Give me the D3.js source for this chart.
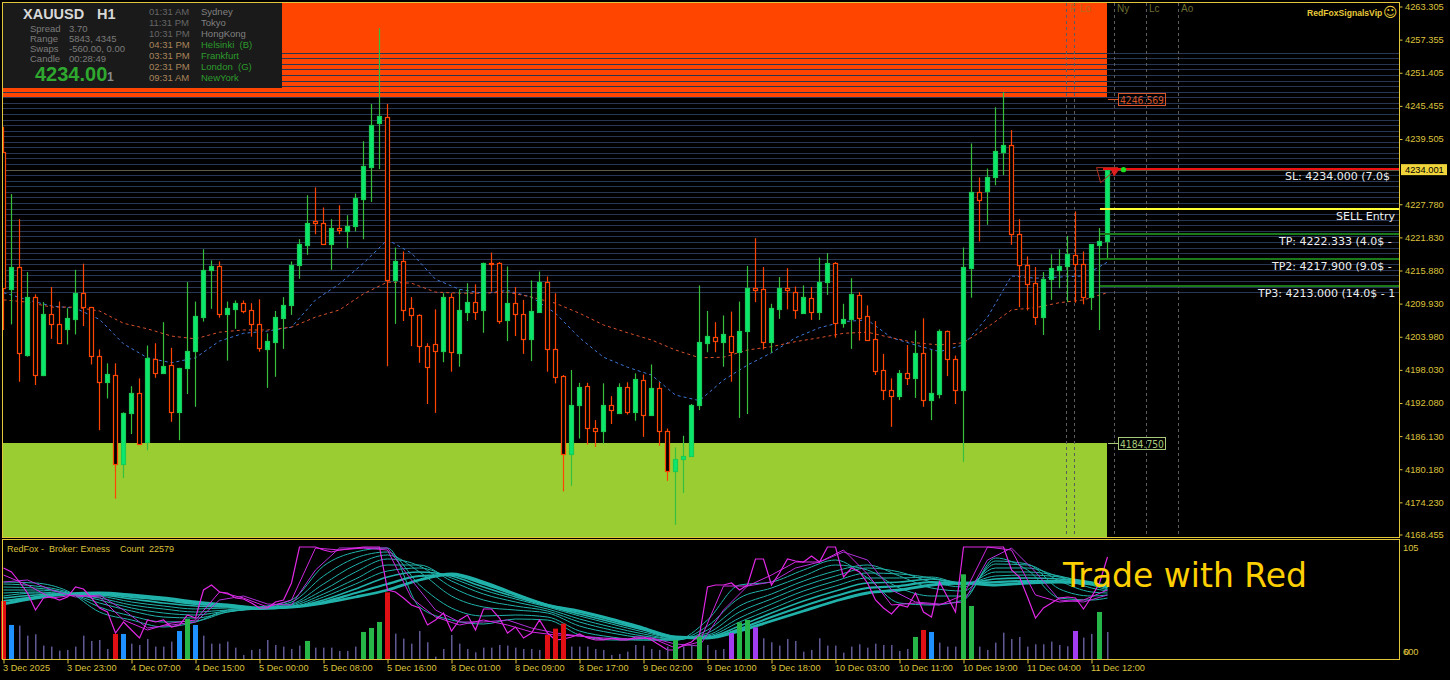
<!DOCTYPE html>
<html><head><meta charset="utf-8">
<script src="https://cdn.jsdelivr.net/npm/d3@7"></script>
<style>html,body{margin:0;padding:0;background:#000;overflow:hidden}svg{display:block}text{font-family:"Liberation Sans",Arial,sans-serif}</style>
</head><body><svg id="c" width="1450" height="680"></svg>
<script>
const opens=[4237.2,4212.6,4216.5,4200.7,4211.2,4197.1,4208.0,4206.2,4205.3,4207.2,
4211.8,4209.3,4200.6,4195.9,4197.1,4181.2,4190.2,4193.8,4185.0,4199.9,
4197.4,4198.9,4190.5,4198.4,4201.5,4207.6,4215.9,4216.6,4208.0,4209.0,
4210.0,4208.7,4206.2,4201.8,4203.1,4207.4,4209.6,4216.8,4220.5,4224.7,
4224.5,4220.7,4223.5,4222.9,4223.8,4228.7,4234.5,4242.3,4243.5,4214.2,
4217.5,4209.1,4207.9,4202.4,4202.6,4201.5,4211.1,4201.1,4208.5,4210.2,
4208.7,4217.2,4217.2,4206.9,4210.0,4208.0,4203.6,4208.5,4213.9,4201.7,
4196.9,4183.0,4191.8,4195.1,4187.5,4187.1,4191.7,4190.2,4194.9,4190.5,
4196.2,4190.0,4194.7,4187.0,4179.9,4182.1,4182.5,4191.8,4202.9,4204.0,
4203.0,4204.2,4201.2,4205.1,4212.7,4212.5,4203.1,4209.0,4212.7,4212.1,
4208.3,4210.9,4208.5,4213.9,4217.2,4206.5,4207.1,4211.4,4207.7,4203.5,
4198.0,4194.5,4193.4,4197.4,4196.6,4201.0,4192.7,4193.7,4205.0,4199.9,
4194.5,4216.4,4229.9,4230.2,4232.6,4237.2,4238.4,4222.4,4216.8,4213.6,
4207.6,4214.4,4216.0,4216.6,4218.6,4217.0,4211.1,4220.5,4221.1];
const highs=[4241.7,4229.6,4225.1,4215.6,4211.6,4210.2,4212.9,4210.3,4209.1,4216.0,
4217.1,4209.3,4201.7,4199.2,4199.2,4190.4,4195.1,4196.5,4202.4,4202.8,
4206.6,4202.0,4198.4,4213.8,4210.3,4219.7,4217.7,4217.5,4210.3,4210.5,
4210.5,4210.0,4210.7,4204.6,4208.6,4211.1,4217.5,4221.5,4229.4,4230.8,
4227.2,4225.1,4227.6,4225.8,4229.7,4239.1,4245.8,4259.4,4245.8,4220.0,
4219.3,4211.1,4208.0,4202.8,4208.9,4211.8,4211.8,4212.5,4213.6,4213.4,
4217.3,4219.1,4217.4,4216.6,4212.9,4210.6,4214.1,4215.7,4214.8,4211.8,
4197.1,4198.0,4195.7,4195.7,4189.0,4195.6,4193.3,4195.6,4195.8,4197.4,
4197.2,4199.0,4195.8,4187.5,4184.1,4186.2,4191.9,4213.2,4208.6,4206.6,
4207.8,4208.5,4210.3,4216.7,4221.7,4216.5,4209.9,4214.7,4216.3,4213.0,
4213.2,4212.9,4218.2,4219.0,4217.4,4209.9,4214.5,4212.0,4209.6,4206.8,
4200.9,4196.5,4198.0,4202.5,4205.1,4207.3,4201.6,4205.3,4205.1,4200.6,
4220.0,4238.7,4232.6,4234.2,4245.2,4247.9,4241.1,4225.1,4218.4,4216.5,
4215.6,4218.8,4219.7,4222.1,4226.5,4219.3,4220.6,4223.5,4234.0];
const lows=[4205.2,4206.2,4195.9,4200.4,4195.3,4196.9,4203.6,4202.7,4202.6,4204.4,
4205.9,4199.0,4187.2,4192.9,4174.9,4178.6,4186.5,4184.8,4183.6,4196.6,
4197.3,4188.7,4185.4,4193.7,4191.4,4206.7,4209.0,4207.4,4199.7,4205.4,
4208.2,4204.0,4201.3,4194.8,4196.8,4201.8,4207.9,4214.4,4218.7,4222.4,
4220.5,4216.0,4222.4,4219.9,4222.9,4221.5,4228.2,4234.1,4198.7,4206.3,
4206.8,4202.3,4199.3,4191.9,4190.3,4199.4,4197.7,4198.6,4206.8,4207.0,
4204.7,4212.1,4206.3,4203.2,4204.1,4200.9,4199.6,4208.5,4197.7,4195.6,
4176.2,4177.2,4185.7,4184.6,4184.2,4184.8,4188.3,4190.1,4190.0,4188.9,
4186.0,4189.9,4184.4,4178.1,4170.2,4175.9,4182.4,4190.8,4201.2,4201.2,
4198.6,4195.9,4189.4,4190.1,4210.2,4201.7,4201.1,4207.2,4208.9,4207.2,
4208.2,4207.0,4207.0,4211.5,4203.8,4205.6,4201.8,4203.3,4203.3,4197.1,
4192.6,4187.8,4192.6,4195.3,4193.0,4191.4,4189.0,4192.9,4196.9,4191.9,
4181.5,4211.0,4221.1,4224.1,4231.2,4233.0,4220.5,4209.3,4208.7,4206.1,
4204.3,4210.6,4212.7,4210.2,4210.1,4209.8,4208.8,4205.2,4218.1];
const closes=[4212.7,4216.5,4201.0,4211.1,4197.1,4208.0,4206.2,4202.8,4207.3,4211.8,
4209.3,4200.6,4195.9,4197.2,4181.2,4190.2,4193.8,4184.8,4200.2,4197.4,
4198.8,4190.5,4198.3,4201.5,4207.7,4215.9,4216.6,4208.0,4209.1,4210.0,
4208.6,4206.2,4201.9,4203.2,4207.5,4209.6,4216.8,4220.6,4224.5,4224.5,
4220.7,4223.5,4223.1,4223.8,4228.9,4234.7,4242.1,4243.6,4214.2,4217.5,
4208.8,4207.8,4202.4,4198.6,4201.5,4211.1,4201.2,4208.7,4210.2,4208.5,
4217.2,4217.0,4206.8,4210.0,4208.1,4203.6,4208.6,4213.9,4201.7,4196.8,
4183.0,4191.7,4194.9,4187.5,4187.1,4191.7,4190.8,4194.9,4190.5,4196.3,
4190.0,4194.7,4187.1,4179.9,4182.1,4182.5,4191.8,4203.0,4204.1,4203.2,
4204.4,4201.3,4205.1,4212.7,4212.4,4203.1,4209.1,4212.7,4212.3,4208.7,
4211.1,4208.5,4213.9,4217.2,4206.4,4207.1,4211.7,4207.4,4203.4,4197.9,
4194.5,4193.4,4197.4,4196.6,4201.0,4192.7,4193.8,4205.0,4199.9,4194.5,
4216.5,4229.9,4228.6,4232.6,4237.3,4238.4,4222.5,4216.9,4213.5,4207.6,
4214.4,4216.3,4216.6,4218.8,4217.1,4211.2,4220.6,4221.1,4233.9];

const emaIdx=[0,3,6,9,12,15,18,21,24,27,30,33,36,39,42,45,48,51,54,57,60,63,66,69,72,75,78,81,84,87,90,93,96,99,102,105,108,111,114,117,120,123,126,129,132,135,138];
const emaFast=[4211.9,4210.6,4209.5,4209.1,4207.1,4202.7,4200.2,4199.3,4200.2,4203.2,4204.6,4205.0,4205.7,4210.6,4213.5,4217.2,4221.4,4219.0,4214.3,4212.5,4211.8,4212.3,4211.1,4208.2,4203.8,4200.3,4198.5,4197.1,4193.5,4192.5,4196.2,4198.9,4201.1,4203.8,4205.6,4206.7,4207.0,4203.8,4202.5,4201.3,4202.5,4207.5,4214.9,4214.5,4214.7,4214.9,4217.4];
const emaSlow=[4210.6,4210.2,4209.3,4209.3,4208.6,4206.4,4205.4,4204.1,4203.6,4204.8,4205.2,4205.2,4205.7,4207.5,4208.8,4211.7,4213.8,4213.6,4212.0,4211.8,4211.8,4212.0,4211.1,4210.0,4208.2,4206.1,4204.7,4203.4,4201.6,4200.2,4200.3,4201.6,4202.2,4203.1,4203.8,4204.6,4204.8,4203.8,4202.9,4202.5,4202.9,4205.7,4208.8,4209.2,4210.1,4210.6,4211.9];

const gridFrom=4212, gridTo=4255;
const resistanceTop=4263.9, resistanceBottom=4246.8, supportTop=4184.9, supportBottom=4167.9;
const resistanceLabel=4246.569, supportLabel=4184.75;
const priceTicks=[4263.305,4257.355,4251.405,4245.455,4239.505,4227.780,4221.830,4215.880,4209.930,4203.980,4198.030,4192.080,4186.130,4180.180,4174.230,4168.455];
const lastPrice=4234.001;
const slPrice=4234.0, entryPrice=4226.75, tpPrices=[4222.333,4217.9,4213.0];
const tradeTexts=["SL: 4234.000 (7.0$","SELL Entry","TP: 4222.333 (4.0$ -","TP2: 4217.900 (9.0$ -","TP3: 4213.000 (14.0$ - 1"];
const timeLabels=["3 Dec 2025","3 Dec 23:00","4 Dec 07:00","4 Dec 15:00","5 Dec 00:00","5 Dec 08:00","5 Dec 16:00","8 Dec 01:00","8 Dec 09:00","8 Dec 17:00","9 Dec 02:00","9 Dec 10:00","9 Dec 18:00","10 Dec 03:00","10 Dec 11:00","10 Dec 19:00","11 Dec 04:00","11 Dec 12:00"];
const sessionNames=["F","Lo","Ny","Lc","Ao"];
const sessionIdx=[133,134,139,143,147];

const volumes=[1750,1030,1010,710,750,410,380,260,280,380,710,550,580,310,760,760,470,430,610,380,380,530,850,1210,1030,710,470,470,530,350,130,280,310,580,430,380,310,410,550,350,350,350,250,250,380,820,940,1120,2010,770,620,470,850,510,80,310,730,470,310,210,350,350,430,410,350,310,310,280,730,920,
1070,380,380,380,310,280,130,160,230,430,410,310,280,380,580,380,430,680,430,280,310,790,1110,1180,960,630,510,410,610,550,230,280,630,410,410,200,380,450,350,470,430,430,250,310,670,880,820,500,380,380,2550,1600,380,280,500,800,610,670,380,450,450,530,430,390,850,650,760,1420,820];
const redBars=[0,14,48,68,69,70,115];
const blueBars=[1,15,22,24,116];
const greenBars=[23,38,45,46,47,84,87,92,93,114,120,121,137];
const purpleBars=[91,94,134];

const oscIdx=[0,4,8,12,16,20,24,28,32,36,40,44,48,52,56,60,64,68,72,76,80,84,88,92,96,100,104,108,112,116,120,124,128,132,136,138];
const ribbon1=[47,53,57,58,56,53,49,46,43,44,48,54,61,71,77,69,57,46,40,32,23,14,13,20,30,40,50,58,61,66,68,66,68,69,67,65];
const ribbon2=[50,54,57,57,54,51,47,45,43,44,49,58,67,75,76,67,56,46,39,31,22,14,13,22,34,45,55,63,65,69,68,69,70,70,68,64];
const ribbon3=[53,56,57,56,52,48,45,44,42,44,51,62,74,79,75,64,54,45,37,29,21,13,14,25,38,50,60,68,69,72,68,72,73,72,69,63];
const ribbon4=[55,58,57,55,49,45,42,43,42,44,54,67,80,83,73,61,52,44,35,27,19,13,15,29,42,55,65,73,73,74,67,75,76,74,68,62];
const ribbon5=[58,59,57,53,46,42,39,41,42,45,57,72,86,86,70,57,49,42,32,24,17,12,16,33,47,60,70,78,77,73,66,79,79,75,66,61];
const ribbon6=[61,61,58,51,43,38,36,40,42,46,61,79,92,85,64,51,45,40,29,21,15,12,18,39,52,65,75,83,79,69,64,83,83,74,63,60];
const ribbon7=[64,63,58,48,40,34,33,39,43,47,67,86,96,79,55,44,41,38,25,18,13,11,21,45,57,70,80,86,75,63,60,87,86,70,59,58];
const ribbon8=[67,65,59,44,35,29,30,39,43,49,75,93,99,66,43,35,36,34,20,14,11,11,25,53,63,75,86,81,63,55,55,90,87,62,55,56];
const ribbon9=[69,68,60,39,31,24,29,41,44,51,85,99,103,44,31,27,32,31,16,11,11,11,31,66,69,81,91,73,48,46,51,93,81,53,51,53];
const oscFast=[83,79,69,58,41,53,54,51,54,64,62,53,43,39,18,29,21,13,31,29,31,24,26,36,33,61,66,59,58,53,52,48,43,43,49,51,68,104,104,104,101,99,101,102,103,104,104,104,61,59,53,46,43,26,31,38,20,31,36,21,42,42,33,18,24,13,18,31,18,11,12,14,17,13,11,11,13,11,11,14,14,11,6,1,1,6,9,16,64,66,66,68,61,66,92,92,66,78,92,90,89,95,89,104,104,74,83,79,68,51,43,37,46,44,58,39,34,69,54,39,104,104,104,104,104,104,81,74,54,33,43,48,53,54,53,42,54,68,94];
const oscMidIdx=[0,3,6,9,12,15,18,21,24,27,30,33,36,39,42,45,48,51,54,57,60,63,66,69,72,75,78,81,84,87,90,93,96,99,102,105,108,111,114,117,120,123,126,129,132,135,138];
const oscMid=[76,66,53,56,54,31,21,28,31,59,53,44,51,103,101,103,101,53,34,26,31,26,19,16,15,12,12,13,3,9,65,65,76,89,89,101,77,46,48,46,56,104,101,56,49,51,61];
const oscLate=[69,71,61,54,56,41,23,26,29,51,55,47,46,81,103,103,103,71,41,29,29,31,23,18,15,13,12,13,7,5,41,65,69,83,89,99,91,61,49,47,49,91,103,79,51,49,56];

const gold="#E2C63A", textGold="#DCC23C", bearCol="#FF4500", bullWick="#38C03C";
const svg=d3.select("#c");
const x=d3.scaleLinear().domain([0,138]).range([3,1107]);
const y=d3.scaleLinear().domain([4168.455,4263.305]).range([534.5,6.5]);
const yOsc=d3.scaleLinear().domain([0,105]).range([651,546]);
const yVol=d3.scaleLinear().domain([0,3600]).range([659.3,539.3]);
const px=i=>x(i)+0.5;

const defs=svg.append("defs");
defs.append("clipPath").attr("id","main").append("rect").attr("x",3).attr("y",3).attr("width",1396).attr("height",534);
defs.append("clipPath").attr("id","txt").append("rect").attr("x",1000).attr("y",3).attr("width",397).attr("height",534);
const g=svg.append("g").attr("clip-path","url(#main)");

// zones
const zones=[[resistanceTop,resistanceBottom,"#FF4500"],[supportTop,supportBottom,"#9ACD32"]];
g.selectAll(".z").data(zones).join("rect").attr("x",x(0)).attr("width",x(138)-x(0))
 .attr("y",d=>y(d[0])).attr("height",d=>y(d[1])-y(d[0])).attr("fill",d=>d[2]).attr("shape-rendering","crispEdges");
// grid
const gridLevels=d3.range(gridFrom,gridTo+1);
g.selectAll(".gl").data(gridLevels).join("line").attr("x1",3).attr("x2",1399)
 .attr("y1",d=>Math.round(y(d))+0.5).attr("y2",d=>Math.round(y(d))+0.5)
 .attr("stroke",d=>d===4234?"#5f5a48":"#283653").attr("stroke-width",1);
// session lines
g.selectAll(".sl").data(sessionIdx).join("line").attr("x1",d=>Math.round(x(d))-0.5).attr("x2",d=>Math.round(x(d))-0.5).attr("y1",3).attr("y2",537)
 .attr("stroke","#5c5c5c").attr("stroke-dasharray","3,3").attr("stroke-width",1);
g.selectAll(".st").data(sessionIdx).join("text").attr("x",(d,i)=>x(d)+(i===0?3:i===1?5:2)).attr("y",12).text((d,i)=>sessionNames[i])
 .attr("font-size",10).attr("fill",(d,i)=>i<2?"#B86A20":"#6E6E30");
// emas
const emaLine=d3.line().x((d,i)=>px(emaIdx[i])).y(d=>y(d));
g.append("path").attr("d",emaLine(emaFast)).attr("fill","none").attr("stroke","#3C78D8").attr("stroke-dasharray","3,3").attr("stroke-width",1);
g.append("path").attr("d",emaLine(emaSlow)).attr("fill","none").attr("stroke","#D9512C").attr("stroke-dasharray","3,3").attr("stroke-width",1);
// candles
const idx=d3.range(opens.length);
const wickCol=i=>closes[i]>=opens[i]?bullWick:bearCol;
g.selectAll(".w").data(idx).join("line").attr("x1",px).attr("x2",px).attr("y1",i=>y(highs[i])).attr("y2",i=>y(lows[i])).attr("stroke",wickCol).attr("stroke-width",1.2);
g.selectAll(".b").data(idx).join("rect").attr("x",i=>x(i)-1.5).attr("width",4)
 .attr("y",i=>Math.round(y(Math.max(opens[i],closes[i])))+0.5)
 .attr("height",i=>Math.max(1,Math.round(y(Math.min(opens[i],closes[i])))-Math.round(y(Math.max(opens[i],closes[i])))))
 .attr("fill",i=>closes[i]>=opens[i]?"#0BE86E":"#000").attr("stroke",i=>closes[i]>=opens[i]?"#18CC55":bearCol).attr("stroke-width",1.2);
// trade levels
const tradeX=1100;
svg.append("path").attr("d",`M${x(136.7)},${y(slPrice)-2} L${x(137.2)},${y(slPrice)+13} L${x(138)+11},${y(slPrice)-2}Z`).attr("fill","none").attr("stroke","#B83020");
svg.append("path").attr("d",`M${x(138)+4},${y(slPrice)} L${x(138)+7},${y(slPrice)+7} L${x(138)+12},${y(slPrice)}Z`).attr("fill","#E02020");
const tLines=[[slPrice,"#EE1111",x(137.5)],[entryPrice,"#FFFF33",tradeX],[tpPrices[0],"#1A7A1A",tradeX],[tpPrices[1],"#1A7A1A",tradeX],[tpPrices[2],"#1A7A1A",tradeX]];
svg.selectAll(".tl").data(tLines).join("line").attr("x1",d=>d[2]).attr("x2",1399).attr("y1",d=>Math.floor(y(d[0]))).attr("y2",d=>Math.floor(y(d[0]))).attr("stroke",d=>d[1]).attr("stroke-width",2);
svg.append("circle").attr("cx",1123.5).attr("cy",y(slPrice)).attr("r",2.7).attr("fill","#1FE01F");
const ttPrice=[slPrice,entryPrice,...tpPrices], ttX=[1285,1336,1279,1272,1258];
svg.append("g").attr("clip-path","url(#txt)").selectAll("text").data(tradeTexts).join("text").attr("x",(d,i)=>ttX[i]).attr("y",(d,i)=>y(ttPrice[i])+10.5)
 .text(d=>d).attr("fill","#EEE").attr("font-size",11).style("font-family","DejaVu Sans");
// boxed levels
const boxes=[["4246.569",resistanceLabel,"#D8552A"],["4184.750",supportLabel,"#A9C97A"]];
boxes.forEach(b=>{const cy=Math.round(y(b[1]))-0.5;
 svg.append("line").attr("x1",1108).attr("x2",1118).attr("y1",cy).attr("y2",cy).attr("stroke",b[2]);
 svg.append("rect").attr("x",1118.5).attr("y",cy-6).attr("width",47).attr("height",12).attr("fill","none").attr("stroke",b[2]);
 svg.append("text").attr("x",1120).attr("y",cy+4).text(b[0]).attr("fill",b[2]).attr("font-size",11).style("font-family","DejaVu Sans").attr("textLength",44).attr("lengthAdjust","spacingAndGlyphs");
});
svg.append("text").attr("x",1307).attr("y",15.5).text("RedFoxSignalsVip").attr("font-size",8.6).attr("font-weight","bold").attr("fill","#E8C93A");
svg.append("text").attr("x",1383).attr("y",17).text("☺").attr("font-size",14).attr("fill","#E8C93A").style("font-family","DejaVu Sans");

// info panel
svg.append("rect").attr("x",3).attr("y",3).attr("width",279).attr("height",85).attr("fill","#1A1A1A");
svg.append("text").attr("x",23).attr("y",19).text("XAUUSD").attr("font-size",14.5).attr("font-weight","bold").attr("fill","#D8D8D8");
svg.append("text").attr("x",97).attr("y",19).text("H1").attr("font-size",14.5).attr("font-weight","bold").attr("fill","#D8D8D8");
const infoNames=["Spread","Range","Swaps","Candle"], infoVals=["3.70","5843, 4345","-560.00, 0.00","00:28:49"];
infoNames.forEach((n,i)=>{const yy=31.5+i*10;
 svg.append("text").attr("x",30).attr("y",yy).text(n).attr("font-size",9.5).attr("fill","#7A7A7A");
 svg.append("text").attr("x",69).attr("y",yy).text(infoVals[i]).attr("font-size",9.5).attr("fill","#7A7A7A");});
svg.append("text").attr("x",35).attr("y",81).text("4234.00").attr("font-size",20).attr("font-weight","bold").attr("fill","#2EA82E");
svg.append("text").attr("x",107).attr("y",81).text("1").attr("font-size",12).attr("font-weight","bold").attr("fill","#8A8A8A");
const cityTimes=["01:31 AM","11:31 PM","10:31 PM","04:31 PM","03:31 PM","02:31 PM","09:31 AM"];
const cityNames=["Sydney","Tokyo","HongKong","Helsinki  (B)","Frankfurt","London  (G)","NewYork"];
cityTimes.forEach((t,i)=>{const yy=15+i*11;
 svg.append("text").attr("x",149).attr("y",yy).text(t).attr("font-size",9.5).attr("fill",i<3?"#666":"#A8845A");
 svg.append("text").attr("x",201).attr("y",yy).style("white-space","pre").text(cityNames[i]).attr("font-size",9.5).attr("fill",i<3?"#808080":"#2C9A2C");});

// oscillator
const rib=[ribbon1,ribbon2,ribbon3,ribbon4,ribbon5,ribbon6,ribbon7,ribbon8,ribbon9];
const ribWidth=[2.8,2.2,1.6,1,1,1,1,1,1];
const oscLine=d3.line().x((d,i)=>px(oscIdx[i])).y(d=>yOsc(d)).curve(d3.curveMonotoneX);
svg.selectAll(".r").data(rib).join("path").attr("d",oscLine).attr("fill","none").attr("stroke","#20B2AA").attr("stroke-width",(d,i)=>ribWidth[i]);
const fLine=d3.line().x((d,i)=>px(i)).y(d=>yOsc(d));
const mLine=d3.line().x((d,i)=>px(oscMidIdx[i])).y(d=>yOsc(d));
svg.append("path").attr("d",mLine(oscLate)).attr("fill","none").attr("stroke","#B030D8").attr("stroke-width",1);
svg.append("path").attr("d",mLine(oscMid)).attr("fill","none").attr("stroke","#D028E0").attr("stroke-width",1);
svg.append("path").attr("d",fLine(oscFast)).attr("fill","none").attr("stroke","#E028E4").attr("stroke-width",1.2);
// volume
const kindOf=i=>redBars.includes(i)?"#E00F14":blueBars.includes(i)?"#1E90FF":greenBars.includes(i)?"#27B648":purpleBars.includes(i)?"#A23CF0":null;
svg.selectAll(".v").data(volumes).join("rect")
 .attr("x",(d,i)=>kindOf(i)?x(i)-2:x(i)).attr("width",(d,i)=>kindOf(i)?5:1.5)
 .attr("y",d=>yVol(d)).attr("height",d=>yVol(0)-yVol(d)).attr("fill",(d,i)=>kindOf(i)||"#5F5A96");

svg.append("text").attr("x",7).attr("y",552).style("white-space","pre").text("RedFox -  Broker: Exness    Count  22579").attr("font-size",9).attr("fill",textGold);
svg.append("text").attr("x",1063).attr("y",586.5).text("Trade with Red").attr("font-size",33).attr("fill","#FFD000").style("font-family","DejaVu Sans");

// axes
const priceAxis=d3.axisRight(y).tickValues(priceTicks).tickFormat(d3.format(".3f")).tickSize(3).tickSizeOuter(0);
const ga=svg.append("g").attr("transform","translate(1399.5,0)").call(priceAxis);
ga.select(".domain").remove();
ga.selectAll("line").attr("stroke",gold);
ga.selectAll("text").attr("x",5.5).attr("fill",textGold).attr("font-size",9.3).attr("font-family",'"Liberation Sans"');
const timeAxis=d3.axisBottom(x).tickValues(timeLabels.map((d,i)=>i*8)).tickFormat(d=>timeLabels[d/8]).tickSize(4).tickSizeOuter(0);
const gt=svg.append("g").attr("transform","translate(0.5,659.5)").call(timeAxis);
gt.select(".domain").remove();
gt.selectAll("line").attr("stroke",gold);
gt.selectAll("text").attr("text-anchor","start").attr("x",-1).attr("y",5).attr("fill",textGold).attr("font-size",9.2).attr("font-family",'"Liberation Sans"').attr("dy","0.71em");

// frames
const frames=[[2.5,2.5,1397,535],[2.5,539.5,1397,120]];
svg.selectAll(".f").data(frames).join("rect").attr("x",d=>d[0]).attr("y",d=>d[1]).attr("width",d=>d[2]).attr("height",d=>d[3]).attr("fill","none").attr("stroke",gold).attr("stroke-width",1);
// last price tag
svg.append("rect").attr("x",1401).attr("y",y(lastPrice)-5.5).attr("width",46).attr("height",11).attr("fill","#F0D43C");
svg.append("text").attr("x",1405).attr("y",y(lastPrice)+3.5).text("4234.001").attr("fill","#000").attr("font-size",9.3);
const oscTickText=["105","600","0"], oscTickY=[550.5,654.5,654.5];
oscTickText.forEach((t,i)=>svg.append("text").attr("x",1403+(i===2?1:0)).attr("y",oscTickY[i]).text(t).attr("fill",textGold).attr("font-size",9.3));
</script></body></html>
